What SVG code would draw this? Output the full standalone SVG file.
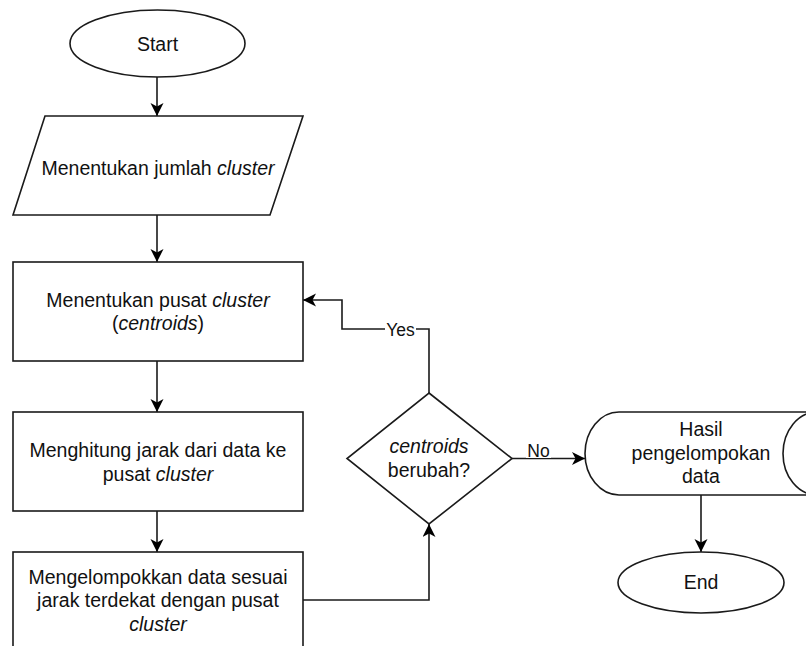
<svg xmlns="http://www.w3.org/2000/svg" width="806" height="646" viewBox="0 0 806 646">
<style>
.s{fill:#fff;stroke:#1a1a1a;stroke-width:1.6}
.t{font-family:"Liberation Sans",Arial,sans-serif;font-size:19.5px;fill:#111;text-anchor:middle}
.l{font-family:"Liberation Sans",Arial,sans-serif;font-size:17.5px;fill:#111;text-anchor:middle}
.i{font-style:italic}
.c{fill:none;stroke:#1a1a1a;stroke-width:1.6}
</style>
<defs>
<marker id="a" markerUnits="userSpaceOnUse" markerWidth="14" markerHeight="14" refX="13" refY="6.5" orient="auto">
<path d="M0,0 L13,6.5 L0,13 L3.5,6.5 Z" fill="#000"/>
</marker>
</defs>
<g id="connectors">
<path class="c" d="M157,77 V116" marker-end="url(#a)"/>
<path class="c" d="M157,215 V262" marker-end="url(#a)"/>
<path class="c" d="M157,361 V412" marker-end="url(#a)"/>
<path class="c" d="M157,511 V552" marker-end="url(#a)"/>
<path class="c" d="M303,600 H429 V524" marker-end="url(#a)"/>
<path class="c" d="M429,393 V329 H342 V300 H303" marker-end="url(#a)"/>
<path class="c" d="M512,458.5 H585" marker-end="url(#a)"/>
<path class="c" d="M701,495 V552" marker-end="url(#a)"/>
<rect x="385" y="320" width="31" height="18" fill="#fff"/>
<text class="l" x="400.5" y="336">Yes</text>
<rect x="526" y="443" width="25" height="15" fill="#fff"/>
<text class="l" x="538.5" y="457">No</text>
</g>
<g id="start">
<ellipse class="s" cx="157.5" cy="43.5" rx="87.5" ry="33.5"/>
<text class="t" x="157.5" y="51">Start</text>
</g>
<g id="input-jumlah">
<polygon class="s" points="45,116 303,116 270,215 13,215"/>
<text class="t" x="158" y="175">Menentukan jumlah <tspan class="i">cluster</tspan></text>
</g>
<g id="pusat">
<rect class="s" x="13" y="262" width="290" height="99"/>
<text class="t" x="158" y="307">Menentukan pusat <tspan class="i">cluster</tspan></text>
<text class="t" x="158" y="330">(<tspan class="i">centroids</tspan>)</text>
</g>
<g id="jarak">
<rect class="s" x="13" y="412" width="290" height="99"/>
<text class="t" x="158" y="457">Menghitung jarak dari data ke</text>
<text class="t" x="158" y="481">pusat <tspan class="i">cluster</tspan></text>
</g>
<g id="kelompok">
<rect class="s" x="13" y="552" width="290" height="100"/>
<text class="t" x="158" y="584">Mengelompokkan data sesuai</text>
<text class="t" x="158" y="607">jarak terdekat dengan pusat</text>
<text class="t" x="158" y="631"><tspan class="i">cluster</tspan></text>
</g>
<g id="decision">
<polygon class="s" points="429,393 512,458.5 429,524 347,458.5"/>
<text class="t" x="429" y="453"><tspan class="i">centroids</tspan></text>
<text class="t" x="429" y="477">berubah?</text>
</g>
<g id="hasil">
<path class="s" d="M619,412 H817 A34,41.5 0 0 1 817,495 H619 A34,41.5 0 0 1 619,412 Z"/>
<ellipse class="s" cx="817" cy="453.5" rx="34" ry="41.5"/>
<text class="t" x="701" y="436">Hasil</text>
<text class="t" x="701" y="460">pengelompokan</text>
<text class="t" x="701" y="483">data</text>
</g>
<g id="end">
<ellipse class="s" cx="701" cy="582.5" rx="83" ry="30.5"/>
<text class="t" x="701" y="589">End</text>
</g>
</svg>
